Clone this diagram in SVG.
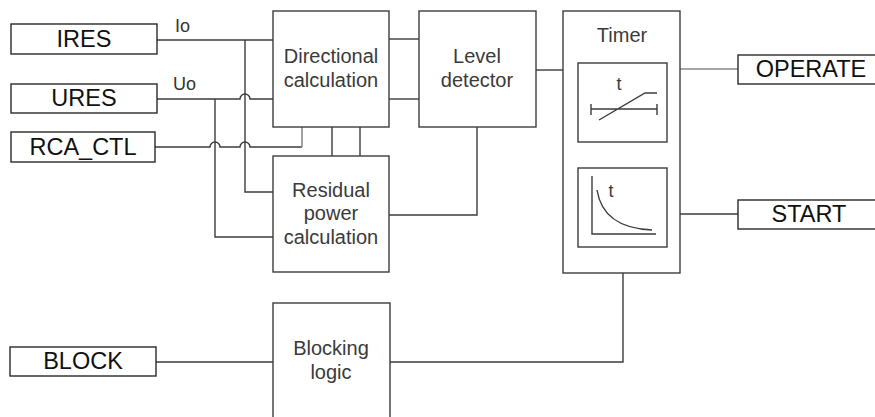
<svg xmlns="http://www.w3.org/2000/svg" width="875" height="417" viewBox="0 0 875 417">
<style>
.box{fill:#fff;stroke:#3c3c3c;stroke-width:1.4}
.io{fill:#fff;stroke:#2a2a2a;stroke-width:1.4}
.ln{fill:none;stroke:#3c3c3c;stroke-width:1.4}
.gr{fill:none;stroke:#8a8a8a;stroke-width:1.6}
.lbl{font-family:"Liberation Sans",Arial,sans-serif;font-size:23.5px;fill:#111;text-anchor:middle}
.txt{font-family:"Liberation Sans",Arial,sans-serif;font-size:20px;fill:#3a3a3a;text-anchor:middle}
.sig{font-family:"Liberation Sans",Arial,sans-serif;font-size:18px;fill:#333}
</style>
<rect width="875" height="417" fill="#fff"/>
<g id="connectors">
<path class="ln" d="M157,40 H273"/>
<path class="ln" d="M245,40 V192 H273"/>
<path class="ln" d="M157,99 H240 a5,5 0 0 1 10,0 H273"/>
<path class="ln" d="M215,99 V237 H273"/>
<path class="ln" d="M155,147 H210 a5,5 0 0 1 10,0 H240 a5,5 0 0 1 10,0 H302"/>
<path class="gr" d="M302,147 V127"/>
<path class="ln" d="M389,39 H419"/>
<path class="ln" d="M389,99 H419"/>
<path class="ln" d="M332,127 V156"/>
<path class="ln" d="M360,127 V156"/>
<path class="ln" d="M389,215 H477 V127"/>
<path class="ln" d="M536,70 H563"/>
<path class="gr" d="M680,69 H738"/>
<path class="ln" d="M680,214 H738"/>
<path class="ln" d="M156,362 H273"/>
<path class="ln" d="M390,362 H623 V273"/>
<text class="sig" x="175" y="32">Io</text>
<text class="sig" x="173" y="90">Uo</text>
</g>
<g id="IRES"><rect class="io" x="11" y="24" width="146" height="30"/><text class="lbl" x="84" y="47">IRES</text></g>
<g id="URES"><rect class="io" x="11" y="84" width="146" height="29"/><text class="lbl" x="84" y="106">URES</text></g>
<g id="RCA_CTL"><rect class="io" x="11" y="132" width="144" height="30"/><text class="lbl" x="83" y="155">RCA_CTL</text></g>
<g id="BLOCK"><rect class="io" x="10" y="347" width="146" height="29"/><text class="lbl" x="83" y="369">BLOCK</text></g>
<g id="OPERATE"><rect class="io" x="738" y="55" width="140" height="29"/><text class="lbl" x="811" y="77">OPERATE</text></g>
<g id="START"><rect class="io" x="738" y="200" width="140" height="29"/><text class="lbl" x="809" y="222">START</text></g>
<g id="directional"><rect class="box" x="273" y="11" width="116" height="116"/><text class="txt" x="331" y="63">Directional</text><text class="txt" x="331" y="87">calculation</text></g>
<g id="level"><rect class="box" x="419" y="11" width="117" height="116"/><text class="txt" x="477" y="63">Level</text><text class="txt" x="477" y="87">detector</text></g>
<g id="residual"><rect class="box" x="273" y="156" width="116" height="116"/><text class="txt" x="331" y="197">Residual</text><text class="txt" x="331" y="220">power</text><text class="txt" x="331" y="244">calculation</text></g>
<g id="blocking"><rect class="box" x="273" y="303" width="117" height="130"/><text class="txt" x="331" y="355">Blocking</text><text class="txt" x="331" y="379">logic</text></g>
<g id="timer">
<rect class="box" x="563" y="11" width="117" height="262"/>
<text class="txt" x="622" y="42">Timer</text>
<rect class="box" x="578" y="63" width="89" height="79"/>
<text class="txt" x="619" y="90" style="font-size:18px">t</text>
<path class="ln" d="M591,109 H657 M591,104 V115 M657,104 V115 M599,120 L645,93 H657"/>
<rect class="box" x="578" y="168" width="89" height="79"/>
<path class="ln" d="M592,176 V234 H656"/>
<path class="ln" d="M597,190 Q603,228 652,230"/>
<text class="txt" x="611" y="197" style="font-size:18px">t</text>
</g>
</svg>
